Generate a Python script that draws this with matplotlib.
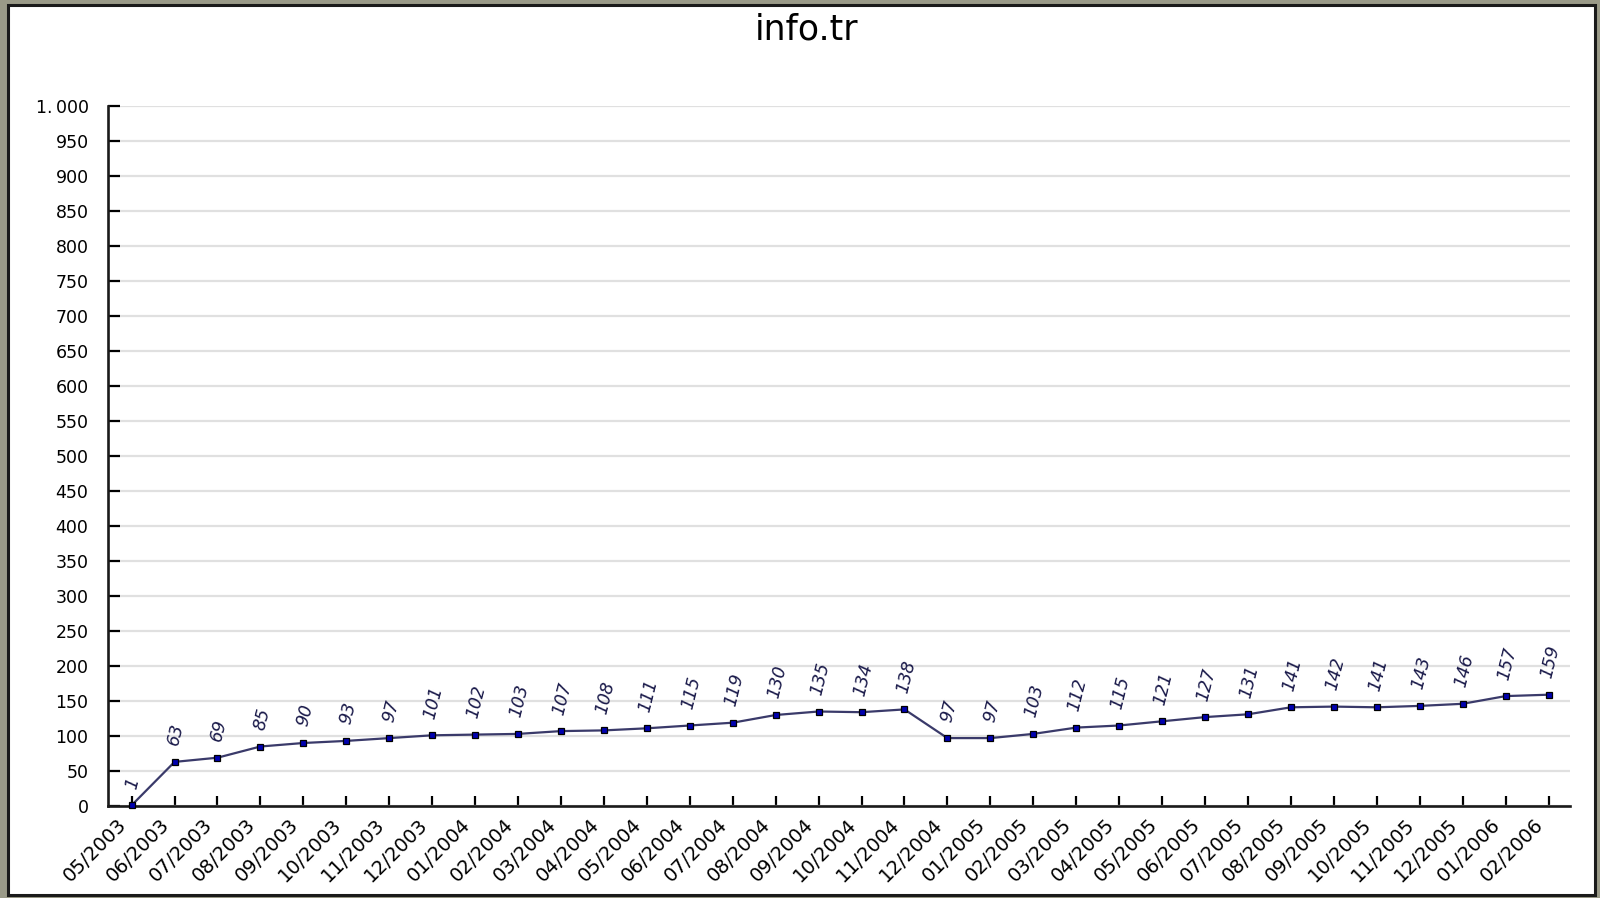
import matplotlib
matplotlib.use("Agg")
import matplotlib.pyplot as plt
from matplotlib.patches import Rectangle
import matplotlib.transforms as mtransforms

title = "info.tr"
months = ["05/2003", "06/2003", "07/2003", "08/2003", "09/2003", "10/2003", "11/2003", "12/2003",
          "01/2004", "02/2004", "03/2004", "04/2004", "05/2004", "06/2004", "07/2004", "08/2004",
          "09/2004", "10/2004", "11/2004", "12/2004", "01/2005", "02/2005", "03/2005", "04/2005",
          "05/2005", "06/2005", "07/2005", "08/2005", "09/2005", "10/2005", "11/2005", "12/2005",
          "01/2006", "02/2006"]
values = [1, 63, 69, 85, 90, 93, 97, 101, 102, 103, 107, 108, 111, 115, 119, 130,
          135, 134, 138, 97, 97, 103, 112, 115, 121, 127, 131, 141, 142, 141, 143, 146,
          157, 159]
y_ticks = list(range(0, 1001, 50))
y_tick_labels = [("1.\u2009000" if v == 1000 else str(v)) for v in y_ticks]

W, H = 1600, 898
fig = plt.figure(figsize=(W / 100, H / 100), dpi=100)
fig.patch.set_facecolor("#9a9a88")
fig.patches.append(Rectangle((8 / W, 1 - 895 / H), (1595 - 8) / W, (895 - 5) / H,
                             transform=fig.transFigure, facecolor="white",
                             edgecolor="#1a1a1a", linewidth=2.2, zorder=-10))

ax = fig.add_axes([108 / W, 1 - 806 / H, (1570 - 108) / W, (806 - 106) / H])
ax.set_zorder(1)
ax.patch.set_alpha(0)

x = list(range(len(months)))
ax.plot(x, values, color="#3a3a6a", linewidth=1.6, marker="s", markersize=4.3,
        markerfacecolor="#0000b0", markeredgecolor="black", markeredgewidth=0.9, zorder=3,
        clip_on=False)

for xi, v in zip(x, values):
    ax.annotate(str(v), (xi, v), xytext=(1, 10.5), textcoords="offset points",
                ha="center", va="bottom", rotation=76, style="italic",
                fontsize=12.5, color="#1a1a4a")

ax.set_xlim(-0.55, len(months) - 0.5)
ax.set_ylim(0, 1000)
ax.set_yticks(y_ticks)
ax.set_yticklabels(y_tick_labels)
ax.set_xticks(x)
ax.set_xticklabels(months, rotation=45, ha="right", va="center", rotation_mode="anchor")

ax.tick_params(axis="y", direction="in", length=8.5, width=1.6, pad=14, labelsize=12.5,
               colors="black")
ax.tick_params(axis="x", direction="in", length=7.5, width=1.6, pad=11.5, labelsize=14,
               colors="black")

shift = mtransforms.ScaledTranslation(-8 / 100, 0, fig.dpi_scale_trans)
for lbl in ax.get_xticklabels():
    lbl.set_transform(lbl.get_transform() + shift)

ax.grid(axis="y", color="#e0e0e0", linewidth=1.6)
ax.set_axisbelow(True)
for s in ["top", "right"]:
    ax.spines[s].set_visible(False)
for s in ["left", "bottom"]:
    ax.spines[s].set_linewidth(1.9)
    ax.spines[s].set_color("#1a1a1a")

fig.text(807 / W, 1 - 29 / H, title, ha="center", va="center", fontsize=25, color="black")

fig.savefig("out.png", dpi=100, facecolor=fig.get_facecolor())
